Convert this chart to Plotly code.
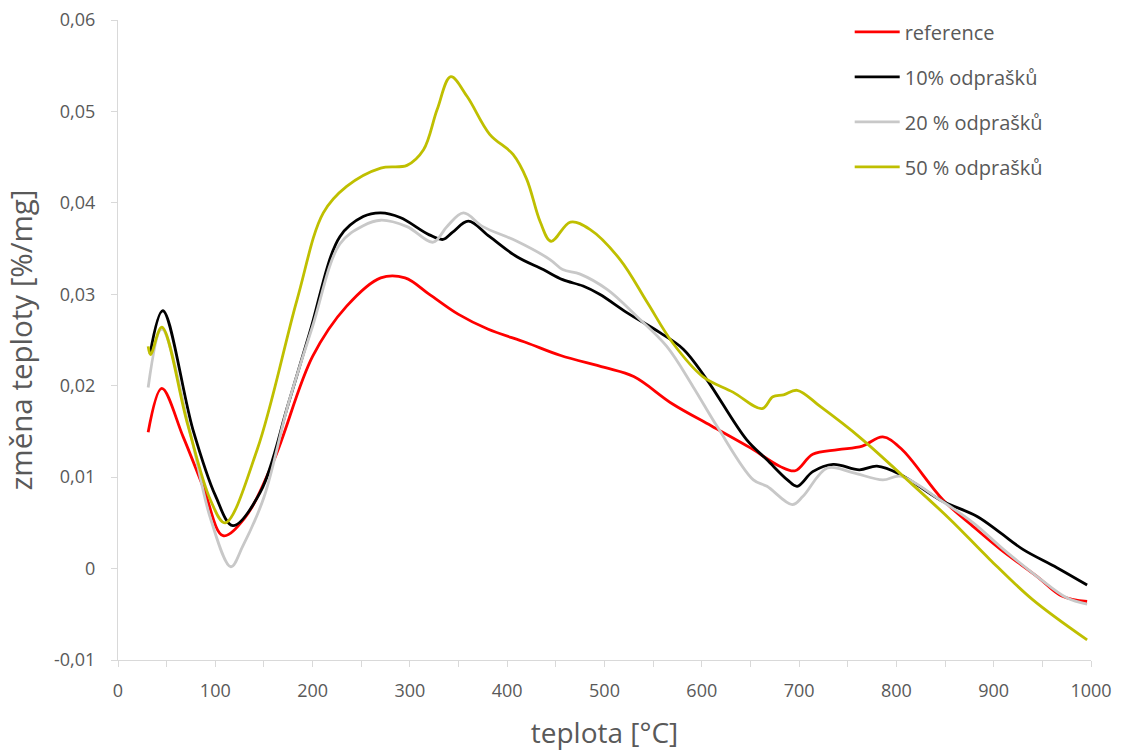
import plotly.graph_objects as go

# ---- data ----
ref_x = [31, 45, 67, 88, 108, 130, 160, 200, 235, 270, 295, 320, 350, 380, 420, 455, 500, 530, 570, 610, 650, 680, 696, 714, 740, 765, 786, 805, 848, 880, 907, 945, 970, 996]
ref_y = [0.0149, 0.0197, 0.0144, 0.0088, 0.0036, 0.0055, 0.0118, 0.0232, 0.0287, 0.0318, 0.0318, 0.0300, 0.0278, 0.0262, 0.0247, 0.0233, 0.0220, 0.0210, 0.0180, 0.0156, 0.0132, 0.0112, 0.0107, 0.0125, 0.0130, 0.0134, 0.0144, 0.0131, 0.0075, 0.0045, 0.0021, -0.0009, -0.0030, -0.0036]

p10_x = [33, 46, 77, 100, 118, 146, 175, 197, 228, 252, 270, 290, 320, 334, 344, 360, 382, 410, 437, 457, 478, 495, 523, 557, 581, 605, 646, 667, 688, 698, 714, 735, 762, 780, 804, 845, 883, 907, 930, 965, 996]
p10_y = [0.0235, 0.0282, 0.0152, 0.0080, 0.0047, 0.0083, 0.0180, 0.0258, 0.0363, 0.0385, 0.0389, 0.0384, 0.0365, 0.0360, 0.0368, 0.0380, 0.0363, 0.0341, 0.0327, 0.0316, 0.0309, 0.0300, 0.0280, 0.0258, 0.0240, 0.0207, 0.0141, 0.0119, 0.0097, 0.0090, 0.0106, 0.0114, 0.0108, 0.0112, 0.0103, 0.0075, 0.0057, 0.0039, 0.0021, 0.0001, -0.0018]

p20_x = [31, 45, 75, 95, 116, 128, 150, 175, 200, 228, 252, 270, 297, 324, 338, 355, 375, 410, 444, 457, 475, 503, 533, 564, 591, 616, 653, 667, 693, 704, 729, 755, 786, 804, 845, 879, 910, 945, 975, 996]
p20_y = [0.0198, 0.0262, 0.0145, 0.0055, 0.0002, 0.0024, 0.0078, 0.0180, 0.0265, 0.0355, 0.0375, 0.0381, 0.0374, 0.0357, 0.0374, 0.0389, 0.0374, 0.0358, 0.0338, 0.0327, 0.0322, 0.0305, 0.0276, 0.0243, 0.0199, 0.0155, 0.0097, 0.0090, 0.0070, 0.0079, 0.0110, 0.0105, 0.0097, 0.0101, 0.0075, 0.0050, 0.0021, -0.0009, -0.0032, -0.0039]

p50_x = [31, 33.5, 45, 71, 95, 110, 143, 184, 211, 235, 270, 297, 314, 328, 342, 359, 382, 406, 420, 434, 445, 465, 485, 516, 544, 570, 601, 632, 662, 673, 684, 698, 722, 763, 807, 855, 896, 940, 996]
p50_y = [0.0243, 0.0234, 0.0264, 0.0160, 0.0075, 0.0050, 0.0130, 0.0294, 0.0389, 0.0418, 0.0438, 0.0441, 0.0458, 0.0502, 0.0538, 0.0516, 0.0475, 0.0453, 0.0426, 0.0379, 0.0358, 0.0379, 0.0371, 0.0338, 0.0291, 0.0247, 0.0210, 0.0193, 0.0175, 0.0188, 0.0190, 0.0195, 0.0177, 0.0143, 0.0101, 0.0054, 0.0010, -0.0034, -0.0078]

series_names = ["reference", "10% odprašků", "20 % odprašků", "50 % odprašků"]
series_colors = ["#FF0000", "#000000", "#C8C8C8", "#BFBF00"]

x_tickvals = [0, 100, 200, 300, 400, 500, 600, 700, 800, 900, 1000]
x_ticktext = ["0", "100", "200", "300", "400", "500", "600", "700", "800", "900", "1000"]
y_tickvals = [-0.01, 0, 0.01, 0.02, 0.03, 0.04, 0.05, 0.06]
y_ticktext = ["-0,01", "0", "0,01", "0,02", "0,03", "0,04", "0,05", "0,06"]

x_title = "teplota [°C]"
y_title = "změna teploty [%/mg]"

FONT = "Open Sans, Carlito, Calibri, sans-serif"
TXT = "#595959"
AX = "#D9D9D9"

fig = go.Figure()
for xs, ys, name, col in zip([ref_x, p10_x, p20_x, p50_x], [ref_y, p10_y, p20_y, p50_y], series_names, series_colors):
    fig.add_trace(go.Scatter(x=xs, y=ys, mode="lines", name=name, legendgroup=name,
                             line=dict(color=col, width=2.8, shape="spline", smoothing=1.0)))

fig.update_layout(
    width=1121, height=751,
    margin=dict(l=118, r=30, t=20, b=91),
    paper_bgcolor="white", plot_bgcolor="white",
    font=dict(family=FONT, color=TXT, size=18),
    showlegend=True,
    legend=dict(x=0.752, y=1.012, xanchor="left", yanchor="top", bgcolor="rgba(0,0,0,0)",
                font=dict(size=20, color=TXT, family=FONT), tracegroupgap=16, itemwidth=45),
    xaxis=dict(range=[0, 1000], tickvals=x_tickvals, ticktext=x_ticktext, showgrid=False, zeroline=False,
               automargin=False,
               showline=True, linecolor=AX, linewidth=1.3, ticks="outside", ticklen=6, tickcolor=AX,
               minor=dict(dtick=50, ticks="outside", ticklen=6, tickcolor=AX, showgrid=False),
               ticklabelstandoff=8, tickfont=dict(size=18, color=TXT),
               title=dict(text=x_title, font=dict(size=28, color=TXT), standoff=24)),
    yaxis=dict(range=[-0.01, 0.06], tickvals=y_tickvals, ticktext=y_ticktext, showgrid=False, zeroline=False,
               automargin=False,
               showline=True, linecolor=AX, linewidth=1.3, ticks="outside", ticklen=6, tickcolor=AX,
               ticklabelstandoff=12, tickfont=dict(size=18, color=TXT),
               title=dict(text=y_title, font=dict(size=29.5, color=TXT), standoff=12)),
)

fig.write_html("out.html", config={"displayModeBar": False},
               post_script="document.body.style.margin='0px';")
